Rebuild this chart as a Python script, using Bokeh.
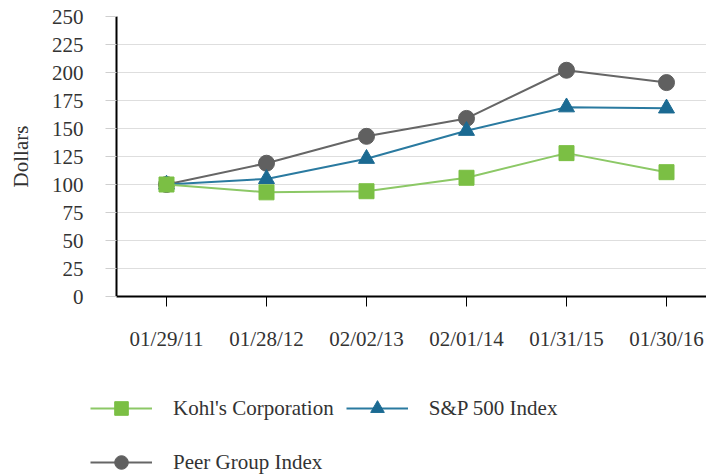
from bokeh.plotting import figure
from bokeh.models import Range1d, FixedTicker, Legend, LegendItem
from bokeh.layouts import column
from bokeh.embed import file_html
from bokeh.resources import INLINE

dates = ["01/29/11", "01/28/12", "02/02/13", "02/01/14", "01/31/15", "01/30/16"]
kohls = [100, 93, 94, 106, 128, 111]
sp500 = [100, 105, 123, 148, 169, 168]
peer = [100, 119, 143, 159, 202, 191]
y_ticks = [0, 25, 50, 75, 100, 125, 150, 175, 200, 225, 250]
series_names = ["Kohl's Corporation", "S&P 500 Index", "Peer Group Index"]

FONT = "Liberation Serif"
xs = list(range(len(dates)))
NAN = float("nan")

STYLES = {
    "kohls": dict(line="#8cc866", fill="#7bbf44", marker="square", size=15),
    "sp": dict(line="#2a7aa0", fill="#1b6a92", marker="triangle", size=16),
    "peer": dict(line="#666666", fill="#606060", marker="circle", size=16),
}

p = figure(width=706, height=370, output_backend="svg", toolbar_location=None,
           x_range=Range1d(-0.5, 5.4), y_range=Range1d(0, 250),
           min_border_left=116, min_border_top=16, min_border_bottom=74,
           min_border_right=0)
p.outline_line_color = None
p.xgrid.grid_line_color = None
p.ygrid.grid_line_color = "#dedede"
p.ygrid.grid_line_width = 1

p.yaxis.ticker = FixedTicker(ticks=y_ticks)
p.yaxis.minor_tick_line_color = None
p.yaxis.major_tick_out = 11
p.yaxis.major_tick_in = 0
p.yaxis.major_tick_line_color = "#cfcfcf"
p.yaxis.axis_line_color = "black"
p.yaxis.axis_line_width = 2
p.yaxis.major_label_standoff = 22
p.yaxis.major_label_text_font = FONT
p.yaxis.major_label_text_font_size = "21px"
p.yaxis.major_label_text_color = "#333333"
p.yaxis.axis_label = "Dollars"
p.yaxis.axis_label_text_font = FONT
p.yaxis.axis_label_text_font_size = "21px"
p.yaxis.axis_label_text_font_style = "normal"
p.yaxis.axis_label_text_color = "#333333"
p.yaxis.axis_label_standoff = 16

p.xaxis.ticker = FixedTicker(ticks=xs)
p.xaxis.major_label_overrides = {i: d for i, d in enumerate(dates)}
p.xaxis.minor_tick_line_color = None
p.xaxis.major_tick_out = 10
p.xaxis.major_tick_in = 0
p.xaxis.major_tick_line_color = "black"
p.xaxis.major_tick_line_width = 1
p.xaxis.axis_line_color = "black"
p.xaxis.axis_line_width = 2
p.xaxis.major_label_standoff = 20
p.xaxis.major_label_text_font = FONT
p.xaxis.major_label_text_font_size = "21px"
p.xaxis.major_label_text_color = "#333333"

for key, ys in (("peer", peer), ("sp", sp500), ("kohls", kohls)):
    s = STYLES[key]
    p.line(xs, ys, line_color=s["line"], line_width=2)
    p.scatter(xs, ys, marker=s["marker"], size=s["size"],
              fill_color=s["fill"], line_color=s["fill"])

# Legend panel (separate figure holding only the legend)
lp = figure(width=706, height=106, output_backend="svg", toolbar_location=None,
            x_axis_type=None, y_axis_type=None,
            x_range=Range1d(0, 1), y_range=Range1d(0, 1),
            min_border_left=0, min_border_right=0, min_border_top=0, min_border_bottom=0)
lp.outline_line_color = None
lp.xgrid.grid_line_color = None
lp.ygrid.grid_line_color = None

items = {}
for key, name in zip(("kohls", "sp", "peer"), series_names):
    s = STYLES[key]
    r1 = lp.line([NAN], [NAN], line_color=s["line"], line_width=2)
    r2 = lp.scatter([NAN], [NAN], marker=s["marker"], fill_color=s["fill"], line_color=s["fill"])
    items[key] = LegendItem(label=name, renderers=[r1, r2])

legend = Legend(items=[items["kohls"], items["peer"], items["sp"]],
                location=(90, -7), ncols=2)
legend.padding = 0
legend.margin = 0
legend.border_line_alpha = 0
legend.background_fill_alpha = 0
legend.glyph_width = 62
legend.glyph_height = 34
legend.label_height = 42
legend.label_standoff = 21
legend.spacing = 12
legend.label_text_font = FONT
legend.label_text_font_size = "21px"
legend.label_text_color = "#333333"
lp.add_layout(legend, "center")

layout = column(p, column(lp, spacing=0), spacing=0)
open("out.html", "w").write(file_html(layout, INLINE))
